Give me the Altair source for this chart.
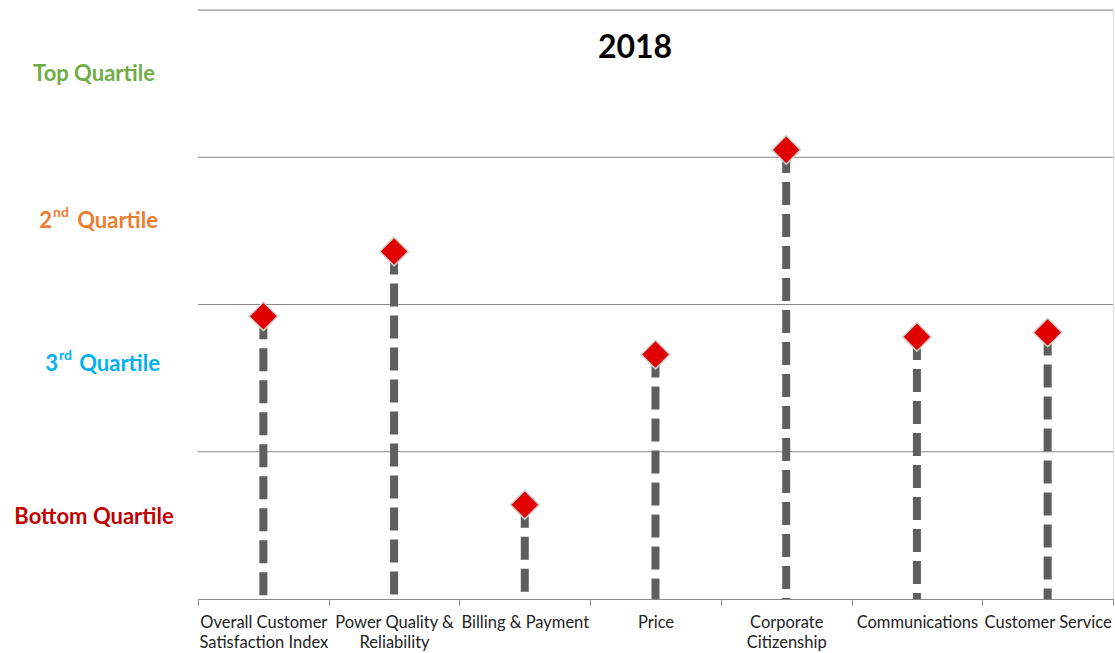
import altair as alt
import pandas as pd

categories = ["Overall Customer|Satisfaction Index", "Power Quality &|Reliability",
              "Billing & Payment", "Price", "Corporate|Citizenship",
              "Communications", "Customer Service"]
scores = [1.92, 2.36, 0.64, 1.66, 3.05, 1.78, 1.81]
grid_levels = [1, 2, 3, 4]

quartile_main = ["Top Quartile", "Quartile", "Quartile", "Bottom Quartile"]
quartile_num = ["", "2", "3", ""]
quartile_sup = ["", "nd", "rd", ""]
quartile_pos = [3.5, 2.5, 1.527, 0.486]
quartile_colors = ["#70ad47", "#ed7d31", "#00b0f0", "#c00000"]

df = pd.DataFrame({"cat": categories, "score": scores, "base": [0] * len(scores)})
FONT = "Lato"

xenc = alt.X("cat:N", sort=categories, title=None,
             scale=alt.Scale(paddingInner=0, paddingOuter=0),
             axis=alt.Axis(labelAngle=0, labelExpr="split(datum.label, '|')",
                           labelFont=FONT, labelFontSize=16.5, labelColor="#222",
                           labelLimit=0, tickBand="extent", tickColor="#888",
                           tickSize=6, domainColor="#888", labelPadding=9,
                           labelLineHeight=20, grid=False))
yscale = alt.Scale(domain=[0, 4], nice=False)
yenc = alt.Y("score:Q", scale=yscale, title=None, axis=None)

# white cover over the left frame edge (the reference has no vertical border)
cover = alt.Chart(pd.DataFrame({"c": [0]})).mark_rule(
    color="white", strokeWidth=2).encode(
    x=alt.value(0), y=alt.value(-1), y2=alt.value(588.5))

grid = alt.Chart(pd.DataFrame({"lv": grid_levels})).mark_rule(
    color="#888", strokeWidth=1).encode(
    y=alt.Y("lv:Q", scale=yscale, axis=None), x=alt.value(0), x2=alt.value(915))

base = alt.Chart(df)
rules = base.mark_rule(color="#5e5e5e", strokeWidth=8, strokeDash=[23, 9]).encode(
    x=xenc, y=yenc, y2="base:Q")
points = base.mark_point(shape="diamond", filled=True, size=820, fill="#e00000",
                         stroke="#d0d0d0", strokeWidth=1.5, opacity=1).encode(
    x=xenc, y=yenc)

qdf = pd.DataFrame({"main": quartile_main, "num": quartile_num, "sup": quartile_sup,
                    "pos": quartile_pos, "color": quartile_colors})
cscale = alt.Scale(domain=quartile_colors, range=quartile_colors)
ypos = alt.Y("pos:Q", scale=yscale, title=None, axis=None)
col = alt.Color("color:N", scale=cscale, legend=None)

qtop = alt.Chart(qdf.iloc[[0, 3]]).mark_text(
    font=FONT, fontSize=22, fontWeight="bold", align="center", baseline="middle", dy=-10
).encode(x=alt.value(-104), y=ypos, text="main:N", color=col)

layers = [cover, grid, rules, points, qtop]
# (row, x of number right edge, x of word right edge) — label placement
for row, xnum, xword in [(1, -146, -40), (2, -140, -38)]:
    sub = alt.Chart(qdf.iloc[[row]])
    layers.append(sub.mark_text(font=FONT, fontSize=22, fontWeight="bold", align="right",
                                baseline="middle", dy=-10).encode(
        x=alt.value(xword), y=ypos, text="main:N", color=col))
    layers.append(sub.mark_text(font=FONT, fontSize=22, fontWeight="bold", align="right",
                                baseline="middle", dy=-10).encode(
        x=alt.value(xnum), y=ypos, text="num:N", color=col))
    layers.append(sub.mark_text(font=FONT, fontSize=14, fontWeight="bold", align="left",
                                baseline="middle", dy=-18).encode(
        x=alt.value(xnum + 1), y=ypos, text="sup:N", color=col))

title = alt.Chart(pd.DataFrame({"t": ["2018"]})).mark_text(
    font=FONT, fontSize=32, fontWeight="bold", color="#000", align="center",
    baseline="middle").encode(x=alt.value(437), y=alt.value(38), text="t:N")
layers.append(title)

chart = alt.layer(*layers).properties(
    width=915, height=589,
    autosize=alt.AutoSizeParams(type="none"),
    padding={"left": 198, "top": 10, "right": 2, "bottom": 54},
).configure_view(strokeWidth=0).configure(background="white")

chart.save("out.html", embed_options={"renderer": "svg", "actions": False})
